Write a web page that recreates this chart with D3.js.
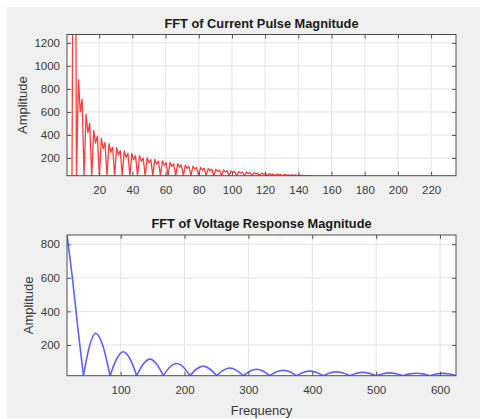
<!DOCTYPE html>
<html>
<head>
<meta charset="utf-8">
<script src="https://cdn.jsdelivr.net/npm/d3@7"></script>
<style>
  body { margin: 0; background: #ffffff; }
  svg text { font-family: "Liberation Sans", Arial, sans-serif; }
</style>
</head>
<body>
<script>
// top panel: FFT of current pulse (notch, peak, dip, peak ... per ripple)
var topFreq = [3.6, 4.3, 5.7, 6.3,
  7.5, 8.6, 9.7, 10.9,
  12.1, 13.2, 14.3, 15.5,
  16.7, 17.8, 18.9, 20.1,
  21.3, 22.4, 23.5, 24.7,
  25.9, 27.0, 28.1, 29.3,
  30.5, 31.6, 32.7, 33.9,
  35.1, 36.2, 37.3, 38.5,
  39.7, 40.8, 41.9, 43.1,
  44.3, 45.4, 46.5, 47.7,
  48.9, 50.0, 51.1, 52.3,
  53.5, 54.6, 55.7, 56.9,
  58.1, 59.2, 60.3, 61.5,
  62.7, 63.8, 64.9, 66.1,
  67.3, 68.4, 69.5, 70.7,
  71.9, 73.0, 74.1, 75.3,
  76.5, 77.6, 78.7, 79.9,
  81.1, 82.2, 83.3, 84.5,
  85.7, 86.8, 87.9, 89.1,
  90.3, 91.4, 92.5, 93.7,
  94.9, 96.0, 97.1, 98.3,
  99.5, 100.6, 101.7, 102.9,
  104.1, 105.2, 106.3, 107.5,
  108.7, 109.8, 110.9, 112.1,
  113.3, 114.4, 115.5, 116.7,
  117.9, 119.0, 120.1, 121.3,
  122.5, 123.6, 124.7, 125.9,
  127.1, 128.2, 129.3, 130.5,
  131.7, 132.8, 133.9, 135.1,
  136.3, 137.4, 138.5, 139.7,
  140.9, 142.0, 143.1, 144.3, 148.5];
var topAmp = [46, 2400, 2400, 46,
  880, 600, 710, 46,
  580, 420, 500, 46,
  440, 330, 390, 46,
  370, 280, 335, 46,
  325, 250, 295, 46,
  290, 225, 265, 46,
  262, 205, 240, 46,
  240, 185, 220, 46,
  220, 170, 200, 46,
  203, 158, 186, 46,
  188, 146, 172, 46,
  174, 136, 160, 46,
  162, 127, 149, 46,
  151, 119, 139, 46,
  138, 110, 127, 46,
  128, 102, 118, 46,
  119, 96, 110, 46,
  110, 90, 102, 46,
  102, 84, 95, 46,
  95, 79, 89, 46,
  88, 74, 83, 46,
  82, 70, 77, 46,
  77, 66, 72, 46,
  72, 62, 67, 46,
  68, 59, 63, 46,
  64, 56, 60, 46,
  60, 53, 57, 46,
  57, 51, 54, 46,
  54, 49, 52, 46,
  51, 47, 49, 46, 46];

// bottom panel: FFT of voltage response (main lobe then side lobes)
var botFreq = [16, 25, 33, 41.7,
  51.5, 61, 72, 83.4,
  93.8, 104.2, 114.6, 125.1,
  135.5, 145.9, 156.3, 166.8,
  177.2, 187.6, 198, 208.5,
  218.9, 229.3, 239.7, 250.2,
  260.6, 271, 281.4, 291.9,
  302.3, 312.7, 323.1, 333.6,
  344, 354.4, 364.8, 375.3,
  385.7, 396.1, 406.5, 417,
  427.4, 437.8, 448.2, 458.7,
  469.1, 479.5, 489.9, 500.4,
  510.8, 521.2, 531.6, 542.1,
  552.5, 562.9, 573.3, 583.8,
  594.2, 604.6, 615, 625.5];
var botAmp = [855, 580, 300, 17,
  197, 270, 197, 17,
  118, 160, 118, 17,
  87, 116, 87, 17,
  69, 90, 69, 17,
  57, 74, 57, 17,
  49, 63, 49, 17,
  44, 55, 44, 17,
  40, 49, 40, 17,
  36, 44, 36, 17,
  33, 40, 33, 17,
  31, 37, 31, 17,
  29, 34, 29, 17,
  28, 32, 28, 17,
  27, 31, 27, 17];

var topXTicks = [20, 40, 60, 80, 100, 120, 140, 160, 180, 200, 220];
var topYTicks = [200, 400, 600, 800, 1000, 1200];
var botXTicks = [100, 200, 300, 400, 500, 600];
var botYTicks = [200, 400, 600, 800];

var w = 488;
var h = 419;

var svg = d3.select("body")
  .append("svg")
  .attr("width", w)
  .attr("height", h);

// figure background
svg.append("rect")
  .attr("x", 7).attr("y", 7)
  .attr("width", 473).attr("height", 411)
  .attr("fill", "#f0f0f0");

function drawPanel(cfg) {
  var xScale = d3.scaleLinear().domain(cfg.xDomain).range([cfg.left, cfg.right]);
  var yScale = d3.scaleLinear().domain(cfg.yDomain).range([cfg.bottom, cfg.top]);
  var g = svg.append("g");

  g.append("rect")
    .attr("x", cfg.left).attr("y", cfg.top)
    .attr("width", cfg.right - cfg.left).attr("height", cfg.bottom - cfg.top)
    .attr("fill", "white");

  // grid
  g.selectAll(".vgrid").data(cfg.xTicks).enter().append("line")
    .attr("x1", d => xScale(d)).attr("x2", d => xScale(d))
    .attr("y1", cfg.top).attr("y2", cfg.bottom)
    .attr("stroke", "#e3e3e3");
  g.selectAll(".hgrid").data(cfg.yTicks).enter().append("line")
    .attr("x1", cfg.left).attr("x2", cfg.right)
    .attr("y1", d => yScale(d)).attr("y2", d => yScale(d))
    .attr("stroke", "#e3e3e3");

  // data line, clipped to the axes box
  g.append("clipPath").attr("id", cfg.id + "-clip")
    .append("rect")
    .attr("x", cfg.left).attr("y", cfg.top)
    .attr("width", cfg.right - cfg.left).attr("height", cfg.bottom - cfg.top);

  var pts = cfg.xs.map((x, i) => [x, cfg.ys[i]]);
  var segs = [pts];
  if (cfg.splitAt != null) {
    // one arc per lobe so the zero points stay sharp
    segs = [];
    var cur = [];
    pts.forEach(function (p) {
      cur.push(p);
      if (p[1] === cfg.splitAt && cur.length > 1) {
        segs.push(cur);
        cur = [p];
      }
    });
  }
  var line = d3.line()
    .x(d => xScale(d[0]))
    .y(d => yScale(d[1]))
    .curve(cfg.curve);

  g.append("g").attr("clip-path", "url(#" + cfg.id + "-clip)")
    .selectAll("path").data(segs).enter().append("path")
    .attr("d", line)
    .attr("fill", "none")
    .attr("stroke", cfg.color)
    .attr("stroke-width", cfg.width)
    .attr("stroke-linejoin", "round");

  // axes with inward ticks on all four sides
  var xAxis = d3.axisBottom(xScale).tickValues(cfg.xTicks).tickSize(-4).tickPadding(10).tickFormat(d3.format("d"));
  var yAxis = d3.axisLeft(yScale).tickValues(cfg.yTicks).tickSize(-4).tickPadding(7).tickFormat(d3.format("d"));
  g.append("g").attr("transform", "translate(0," + cfg.bottom + ")").call(xAxis);
  g.append("g").attr("transform", "translate(" + cfg.left + ",0)").call(yAxis);
  g.append("g").attr("transform", "translate(0," + cfg.top + ")")
    .call(d3.axisTop(xScale).tickValues(cfg.xTicks).tickSize(-4).tickFormat(""));
  g.append("g").attr("transform", "translate(" + cfg.right + ",0)")
    .call(d3.axisRight(yScale).tickValues(cfg.yTicks).tickSize(-4).tickFormat(""));

  g.selectAll(".domain").remove();
  g.selectAll(".tick line").attr("stroke", "#555");
  g.selectAll(".tick text")
    .attr("fill", "#3a3a3a")
    .attr("font-size", "11.5px")
    .attr("font-family", "'Liberation Sans', Arial, sans-serif");

  g.append("rect")
    .attr("x", cfg.left).attr("y", cfg.top)
    .attr("width", cfg.right - cfg.left).attr("height", cfg.bottom - cfg.top)
    .attr("fill", "none")
    .attr("stroke", "#4d4d4d");

  // title and labels
  g.append("text")
    .attr("x", (cfg.left + cfg.right) / 2).attr("y", cfg.top - 7)
    .attr("text-anchor", "middle")
    .attr("font-size", "12.8px")
    .attr("font-weight", "bold")
    .attr("fill", "#1a1a1a")
    .text(cfg.title);

  g.append("text")
    .attr("transform", "translate(" + cfg.ylabelX + "," + ((cfg.top + cfg.bottom) / 2) + ") rotate(-90)")
    .attr("text-anchor", "middle")
    .attr("font-size", "13px")
    .attr("fill", "#3a3a3a")
    .text("Amplitude");

  if (cfg.xlabel) {
    g.append("text")
      .attr("x", (cfg.left + cfg.right) / 2).attr("y", cfg.bottom + 39)
      .attr("text-anchor", "middle")
      .attr("font-size", "13px")
      .attr("fill", "#3a3a3a")
      .text(cfg.xlabel);
  }
}

drawPanel({
  id: "top",
  left: 67, right: 456, top: 34.5, bottom: 175.7,
  xDomain: [0.6, 235], yDomain: [46, 1273],
  xTicks: topXTicks, yTicks: topYTicks,
  xs: topFreq, ys: topAmp,
  curve: d3.curveLinear, splitAt: null,
  color: "#ff3b3b", width: 1.3,
  title: "FFT of Current Pulse Magnitude",
  ylabelX: 27
});

drawPanel({
  id: "bot",
  left: 67, right: 456, top: 235, bottom: 375.7,
  xDomain: [16, 625], yDomain: [17, 855],
  xTicks: botXTicks, yTicks: botYTicks,
  xs: botFreq, ys: botAmp,
  curve: d3.curveMonotoneX, splitAt: 17,
  color: "#6060ff", width: 1.6,
  title: "FFT of Voltage Response Magnitude",
  xlabel: "Frequency",
  ylabelX: 33
});
</script>
</body>
</html>
